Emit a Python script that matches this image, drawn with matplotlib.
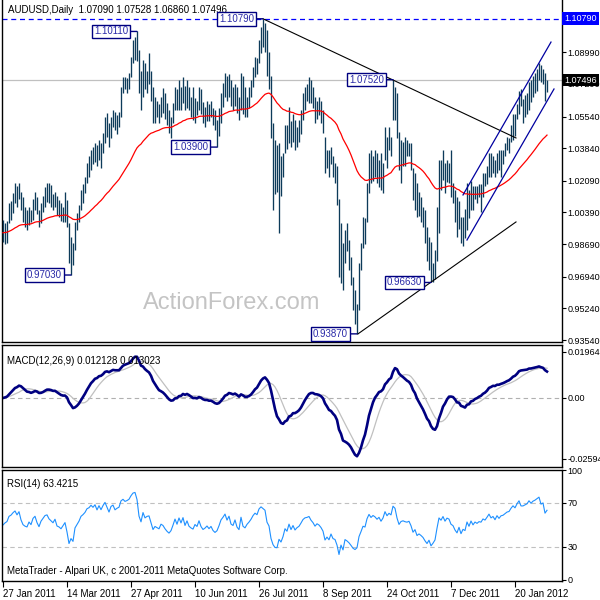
import numpy as np
import pandas as pd
import matplotlib
matplotlib.use('Agg')
import matplotlib.pyplot as plt
from matplotlib.transforms import blended_transform_factory

plt.rcParams['font.family'] = ['Liberation Sans', 'DejaVu Sans']

# AUDUSD daily bars, 27 Jan 2011 .. Feb 2012 (one value per trading day)
highs = [
    1.0000, 0.9985, 0.9995, 1.0090, 1.0100, 1.0143, 1.0196, 1.0180, 1.0196, 1.0150,
    1.0120, 1.0070, 1.0052, 1.0070, 1.0052, 1.0110, 1.0150, 1.0120, 1.0052, 1.0090,
    1.0130, 1.0176, 1.0197, 1.0197, 1.0185, 1.0140, 1.0150, 1.0130, 1.0106, 1.0090,
    1.0070, 1.0150, 1.0106, 0.9980, 0.9907, 0.9875, 0.9990, 1.0036, 1.0080, 1.0160,
    1.0190, 1.0230, 1.0305, 1.0340, 1.0374, 1.0390, 1.0412, 1.0400, 1.0430, 1.0410,
    1.0466, 1.0550, 1.0573, 1.0520, 1.0550, 1.0589, 1.0580, 1.0560, 1.0580, 1.0713,
    1.0766, 1.0766, 1.0760, 1.0790, 1.0874, 1.0965, 1.0980, 1.1011, 1.0910, 1.0800,
    1.0858, 1.0840, 1.0800, 1.0895, 1.0800, 1.0713, 1.0660, 1.0640, 1.0620, 1.0660,
    1.0707, 1.0680, 1.0626, 1.0589, 1.0550, 1.0626, 1.0713, 1.0700, 1.0750, 1.0713,
    1.0766, 1.0720, 1.0750, 1.0713, 1.0660, 1.0713, 1.0653, 1.0640, 1.0713, 1.0700,
    1.0630, 1.0605, 1.0640, 1.0620, 1.0640, 1.0600, 1.0589, 1.0535, 1.0600, 1.0680,
    1.0734, 1.0788, 1.0770, 1.0780, 1.0750, 1.0713, 1.0730, 1.0713, 1.0660, 1.0788,
    1.0770, 1.0713, 1.0660, 1.0713, 1.0750, 1.0820, 1.0874, 1.0870, 1.0965, 1.1035,
    1.1079, 1.1055, 1.1019, 1.0900, 1.0770, 1.0520, 1.0430, 1.0400, 1.0410, 1.0340,
    1.0360, 1.0508, 1.0508, 1.0605, 1.0530, 1.0570, 1.0535, 1.0500, 1.0535, 1.0589,
    1.0680, 1.0713, 1.0730, 1.0766, 1.0750, 1.0713, 1.0660, 1.0640, 1.0660, 1.0640,
    1.0589, 1.0444, 1.0374, 1.0374, 1.0390, 1.0340, 1.0305, 1.0290, 1.0110, 0.9980,
    0.9875, 0.9945, 0.9980, 0.9890, 0.9800, 0.9692, 0.9620, 0.9550, 0.9770, 0.9875,
    1.0015, 1.0010, 1.0197, 1.0358, 1.0374, 1.0340, 1.0374, 1.0358, 1.0320, 1.0358,
    1.0305, 1.0498, 1.0444, 1.0498, 1.0444, 1.0752, 1.0713, 1.0680, 1.0470, 1.0430,
    1.0420, 1.0444, 1.0430, 1.0410, 1.0410, 1.0280, 1.0250, 1.0197, 1.0150, 1.0122,
    1.0068, 1.0052, 0.9960, 0.9907, 0.9880, 0.9770, 0.9838, 1.0068, 1.0320, 1.0320,
    1.0374, 1.0305, 1.0320, 1.0305, 1.0374, 1.0197, 1.0160, 1.0122, 1.0100, 1.0015,
    1.0015, 1.0060, 1.0197, 1.0160, 1.0210, 1.0180, 1.0180, 1.0180, 1.0190, 1.0190,
    1.0250, 1.0250, 1.0290, 1.0360, 1.0360, 1.0340, 1.0320, 1.0360, 1.0374, 1.0374,
    1.0374, 1.0410, 1.0446, 1.0440, 1.0510, 1.0570, 1.0570, 1.0620, 1.0690, 1.0700,
    1.0650, 1.0670, 1.0680, 1.0740, 1.0750, 1.0770, 1.0786, 1.0810, 1.0840, 1.0830,
    1.0810, 1.0790, 1.07528,
]
lows = [
    0.9880, 0.9870, 0.9875, 0.9980, 1.0000, 1.0036, 1.0090, 1.0070, 1.0110, 1.0050,
    0.9990, 0.9960, 0.9945, 0.9970, 0.9990, 1.0000, 1.0052, 1.0030, 0.9960, 0.9980,
    1.0040, 1.0070, 1.0095, 1.0090, 1.0070, 1.0050, 1.0070, 1.0025, 1.0015, 0.9995,
    0.9990, 0.9990, 0.9960, 0.9768, 0.9703, 0.9757, 0.9840, 0.9945, 0.9990, 1.0052,
    1.0090, 1.0143, 1.0197, 1.0230, 1.0267, 1.0300, 1.0310, 1.0290, 1.0320, 1.0280,
    1.0358, 1.0410, 1.0444, 1.0390, 1.0440, 1.0498, 1.0480, 1.0460, 1.0500, 1.0551,
    1.0680, 1.0700, 1.0680, 1.0700, 1.0766, 1.0841, 1.0858, 1.0850, 1.0680, 1.0590,
    1.0660, 1.0700, 1.0680, 1.0730, 1.0640, 1.0520, 1.0520, 1.0550, 1.0520, 1.0550,
    1.0573, 1.0540, 1.0510, 1.0466, 1.0440, 1.0520, 1.0589, 1.0590, 1.0589, 1.0590,
    1.0626, 1.0590, 1.0600, 1.0590, 1.0550, 1.0535, 1.0520, 1.0560, 1.0589, 1.0570,
    1.0520, 1.0498, 1.0530, 1.0530, 1.0550, 1.0510, 1.0482, 1.0390, 1.0450, 1.0520,
    1.0605, 1.0660, 1.0640, 1.0660, 1.0610, 1.0590, 1.0610, 1.0573, 1.0535, 1.0589,
    1.0570, 1.0550, 1.0550, 1.0600, 1.0660, 1.0713, 1.0766, 1.0780, 1.0841, 1.0895,
    1.0929, 1.0900, 1.0770, 1.0700, 1.0440, 1.0050, 1.0140, 1.0150, 0.9930, 1.0130,
    1.0230, 1.0358, 1.0380, 1.0412, 1.0390, 1.0420, 1.0374, 1.0390, 1.0420, 1.0460,
    1.0535, 1.0589, 1.0640, 1.0626, 1.0626, 1.0600, 1.0520, 1.0540, 1.0560, 1.0520,
    1.0466, 1.0251, 1.0280, 1.0230, 1.0300, 1.0230, 1.0197, 1.0080, 0.9692, 0.9660,
    0.9623, 0.9770, 0.9830, 0.9730, 0.9650, 0.9516, 0.9440, 0.9387, 0.9516, 0.9730,
    0.9850, 0.9870, 0.9990, 1.0143, 1.0197, 1.0210, 1.0230, 1.0197, 1.0176, 1.0160,
    1.0143, 1.0321, 1.0280, 1.0374, 1.0340, 1.0535, 1.0535, 1.0440, 1.0267, 1.0197,
    1.0290, 1.0290, 1.0340, 1.0340, 1.0267, 1.0106, 1.0052, 1.0015, 1.0020, 0.9990,
    0.9960, 0.9875, 0.9780, 0.9730, 0.9663, 0.9663, 0.9680, 0.9780, 0.9930, 1.0160,
    1.0213, 1.0143, 1.0200, 1.0197, 1.0122, 1.0090, 0.9990, 0.9907, 0.9950, 0.9875,
    0.9860, 0.9900, 0.9945, 1.0010, 1.0050, 1.0050, 1.0110, 1.0090, 1.0120, 1.0040,
    1.0120, 1.0180, 1.0190, 1.0230, 1.0230, 1.0250, 1.0230, 1.0250, 1.0267, 1.0230,
    1.0300, 1.0340, 1.0374, 1.0360, 1.0420, 1.0430, 1.0450, 1.0540, 1.0570, 1.0610,
    1.0520, 1.0550, 1.0570, 1.0590, 1.0630, 1.0660, 1.0680, 1.0690, 1.0750, 1.0740,
    1.0730, 1.0640, 1.0686,
]
closes = [
    0.9930, 0.9960, 0.9980, 1.0060, 1.0080, 1.0120, 1.0150, 1.0110, 1.0160, 1.0070,
    1.0010, 0.9990, 0.9980, 1.0040, 1.0010, 1.0090, 1.0120, 1.0050, 1.0000, 1.0070,
    1.0110, 1.0150, 1.0160, 1.0120, 1.0100, 1.0080, 1.0120, 1.0050, 1.0040, 1.0020,
    1.0050, 1.0080, 0.9980, 0.9800, 0.9850, 0.9800, 0.9960, 1.0010, 1.0060, 1.0140,
    1.0170, 1.0210, 1.0280, 1.0300, 1.0350, 1.0330, 1.0380, 1.0330, 1.0410, 1.0370,
    1.0450, 1.0520, 1.0470, 1.0420, 1.0530, 1.0560, 1.0510, 1.0540, 1.0560, 1.0700,
    1.0740, 1.0720, 1.0740, 1.0770, 1.0860, 1.0940, 1.0960, 1.0900, 1.0720, 1.0640,
    1.0820, 1.0740, 1.0770, 1.0780, 1.0680, 1.0560, 1.0610, 1.0590, 1.0570, 1.0640,
    1.0620, 1.0570, 1.0530, 1.0500, 1.0530, 1.0600, 1.0690, 1.0620, 1.0720, 1.0650,
    1.0740, 1.0620, 1.0700, 1.0610, 1.0580, 1.0560, 1.0630, 1.0600, 1.0690, 1.0600,
    1.0550, 1.0570, 1.0600, 1.0560, 1.0590, 1.0530, 1.0500, 1.0520, 1.0580, 1.0660,
    1.0700, 1.0750, 1.0680, 1.0740, 1.0640, 1.0620, 1.0700, 1.0600, 1.0560, 1.0760,
    1.0610, 1.0580, 1.0640, 1.0680, 1.0730, 1.0800, 1.0850, 1.0830, 1.0950, 1.1000,
    1.0980, 1.0960, 1.0800, 1.0740, 1.0480, 1.0300, 1.0200, 1.0190, 1.0320, 1.0240,
    1.0330, 1.0480, 1.0420, 1.0570, 1.0440, 1.0530, 1.0420, 1.0470, 1.0500, 1.0570,
    1.0650, 1.0690, 1.0700, 1.0720, 1.0660, 1.0620, 1.0560, 1.0600, 1.0580, 1.0540,
    1.0480, 1.0300, 1.0340, 1.0280, 1.0360, 1.0260, 1.0240, 1.0100, 0.9750, 0.9900,
    0.9700, 0.9900, 0.9850, 0.9780, 0.9680, 0.9560, 0.9500, 0.9530, 0.9740, 0.9850,
    0.9980, 0.9960, 1.0180, 1.0320, 1.0250, 1.0310, 1.0280, 1.0230, 1.0280, 1.0200,
    1.0280, 1.0460, 1.0380, 1.0450, 1.0420, 1.0700, 1.0660, 1.0460, 1.0300, 1.0380,
    1.0400, 1.0380, 1.0370, 1.0390, 1.0300, 1.0150, 1.0200, 1.0050, 1.0080, 1.0040,
    0.9990, 0.9900, 0.9820, 0.9870, 0.9700, 0.9740, 0.9790, 1.0000, 1.0250, 1.0200,
    1.0300, 1.0200, 1.0280, 1.0260, 1.0150, 1.0120, 1.0020, 0.9950, 1.0060, 0.9900,
    0.9990, 0.9960, 1.0150, 1.0050, 1.0180, 1.0090, 1.0160, 1.0130, 1.0170, 1.0160,
    1.0230, 1.0210, 1.0270, 1.0340, 1.0280, 1.0310, 1.0260, 1.0340, 1.0300, 1.0350,
    1.0360, 1.0390, 1.0420, 1.0430, 1.0490, 1.0540, 1.0520, 1.0600, 1.0670, 1.0620,
    1.0620, 1.0640, 1.0660, 1.0720, 1.0700, 1.0740, 1.0760, 1.0790, 1.0820, 1.0770,
    1.0790, 1.0709, 1.07496,
]

date_ticks = [0, 32, 64, 96, 128, 160, 192, 224, 256]
date_labels = ['27 Jan 2011', '14 Mar 2011', '27 Apr 2011', '10 Jun 2011', '26 Jul 2011',
               '8 Sep 2011', '24 Oct 2011', '7 Dec 2011', '20 Jan 2012']
price_ticks = [1.08990, 1.07290, 1.05540, 1.03840, 1.02090, 1.00390, 0.98690,
               0.96940, 0.95240, 0.93540]

# swing highs / lows that carry a label box (bar index, price)
swing_idx = [34, 67, 107, 130, 177, 195, 214]
swing_px = [0.97030, 1.10110, 1.03900, 1.10790, 0.93870, 1.07520, 0.96630]

# hand drawn lines: (start bar, start price, end bar, end price)
trend_lines = [(130, 1.1079, 256.5, 1.0439), (177.5, 0.9387, 256.5, 0.9988)]
channel_lines = [(230, 1.0133, 274, 1.0954), (232, 0.9891, 275.5, 1.0702)]

high_level = 1.10790
last_price = 1.07496
macd_ticks = [0.019646, 0.0, -0.02594]
macd_tick_labels = ['0.019646', '0.00', '-0.02594']
rsi_ticks = [100, 70, 30, 0]

# ---- indicators ----
c = pd.Series(closes)
ma = c.ewm(span=55, adjust=False).mean()
macd = c.ewm(span=12, adjust=False).mean() - c.ewm(span=26, adjust=False).mean()
signal = macd.rolling(9, min_periods=1).mean()

ag, al = 0.003, 0.003  # neutral start for Wilder smoothing
rsi = [50.0]
for d in c.diff().iloc[1:]:
    ag = (ag * 13 + max(d, 0)) / 14
    al = (al * 13 + max(-d, 0)) / 14
    rsi.append(100 - 100 / (1 + ag / al))

x = np.arange(len(closes))

# ---- layout (pixel rectangles in a 600x600 figure) ----
fig = plt.figure(figsize=(6, 6), dpi=100)


def rect(top, bottom, left=2, right=562):
    return [left / 600, 1 - bottom / 600, (right - left) / 600, (bottom - top) / 600]


ax = fig.add_axes(rect(0, 342))
ax_m = fig.add_axes(rect(345, 467))
ax_r = fig.add_axes(rect(470, 581))

fs = 7
afs = 6.5  # right axis labels
for a in (ax, ax_m, ax_r):
    a.set_xlim(-0.5, 279.5)
    a.yaxis.tick_right()
    a.tick_params(axis='y', direction='out', length=3, width=0.8, pad=1, labelsize=afs)
    a.tick_params(axis='x', bottom=False, labelbottom=False)
    for s in a.spines.values():
        s.set_linewidth(1.0)
        s.set_color('black')
ax.spines['top'].set_visible(False)

# main price panel
ax.set_ylim(0.93433, 1.11799)
ax.set_yticks(price_ticks)
ax.set_yticklabels(['%.5f' % v for v in price_ticks])
ax.axhline(high_level, color='#0000ff', lw=0.9, ls=(0, (4, 3)), zorder=1)
ax.axhline(last_price, color='#c0c0c0', lw=0.9, zorder=1)
ax.text(0.41, 0.115, 'ActionForex.com', transform=ax.transAxes, ha='center', va='center',
        fontsize=17, color='#c4c4c4', zorder=1)
ax.vlines(x, lows, highs, color='#0d3b5a', lw=0.95, zorder=3)
ax.plot(x, ma, color='#ff0000', lw=0.9, zorder=4)
for x0, y0, x1, y1 in trend_lines:
    ax.plot([x0, x1], [y0, y1], color='black', lw=0.8, zorder=5)
for x0, y0, x1, y1 in channel_lines:
    ax.plot([x0, x1], [y0, y1], color='#0000a0', lw=0.9, zorder=5)
for i, p in zip(swing_idx, swing_px):
    ax.annotate('%.5f' % p, xy=(i, p), xytext=(-6.5, 0), textcoords='offset points',
                ha='right', va='center', fontsize=fs, color='#2a2aa8', zorder=6,
                bbox=dict(boxstyle='square,pad=0.18', fc='white', ec='#000080', lw=1.0),
                arrowprops=dict(arrowstyle='-', color='#000080', lw=1.0,
                                shrinkA=0, shrinkB=0))
tr = blended_transform_factory(ax.transAxes, ax.transData)
ax.text(1.004, high_level, '1.10790', transform=tr, ha='left', va='center', fontsize=afs,
        color='white', bbox=dict(boxstyle='square,pad=0.2', fc='#0000ff', ec='none'),
        clip_on=False, zorder=10)
ax.text(1.004, last_price, '1.07496', transform=tr, ha='left', va='center', fontsize=afs,
        color='white', bbox=dict(boxstyle='square,pad=0.2', fc='black', ec='none'),
        clip_on=False, zorder=10)
ax.text(0.011, 0.972, 'AUDUSD,Daily  1.07090 1.07528 1.06860 1.07496',
        transform=ax.transAxes, fontsize=fs, va='center', ha='left')

# MACD panel
ax_m.set_ylim(-0.0294, 0.02258)
ax_m.set_yticks(macd_ticks)
ax_m.set_yticklabels(macd_tick_labels)
ax_m.axhline(0, color='#b0b0b0', lw=0.8, ls=(0, (4, 3)))
ax_m.plot(x, signal, color='#c0c0c0', lw=0.9)
ax_m.plot(x, macd, color='#000080', lw=1.9)
ax_m.text(0.009, 0.87, 'MACD(12,26,9) 0.012128 0.013023', transform=ax_m.transAxes,
          fontsize=fs, va='center', ha='left')

# RSI panel
ax_r.set_ylim(-1, 100)
ax_r.set_yticks(rsi_ticks)
ax_r.set_yticklabels([str(v) for v in rsi_ticks])
for lv in (70, 30):
    ax_r.axhline(lv, color='#c0c0c0', lw=0.8, ls=(0, (4, 3)))
ax_r.plot(x, rsi, color='#1e90ff', lw=0.8)
ax_r.text(0.009, 0.87, 'RSI(14) 63.4215', transform=ax_r.transAxes,
          fontsize=fs, va='center', ha='left')
ax_r.text(0.009, 0.09, 'MetaTrader - Alpari UK, c 2001-2011 MetaQuotes Software Corp.',
          transform=ax_r.transAxes, fontsize=fs, va='center', ha='left')
ax_r.set_xticks(date_ticks)
ax_r.set_xticklabels(date_labels, ha='left')
ax_r.tick_params(axis='x', bottom=True, labelbottom=True, direction='out', length=4,
                 width=0.8, pad=2, labelsize=fs)

fig.savefig('out.png', dpi=100)
